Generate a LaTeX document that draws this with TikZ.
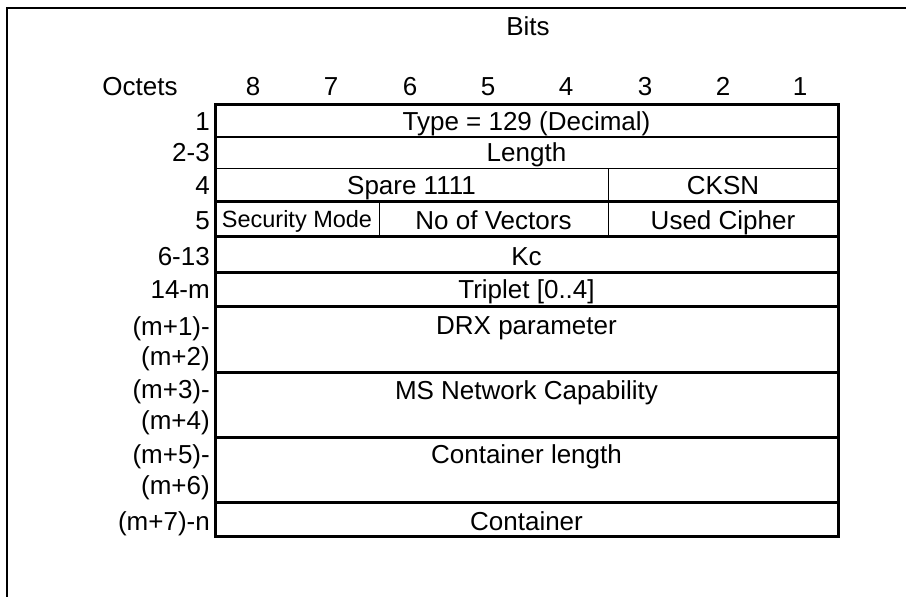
\documentclass[tikz,border=0pt]{standalone}
\usepackage{fontspec}
\setmainfont{Liberation Sans}
\begin{document}
\begin{tikzpicture}[x=1pt,y=-1pt,
  lab/.style={inner sep=0pt, font=\fontsize{26}{30}\selectfont, text height=18.6pt, text depth=0pt},
  smalllab/.style={inner sep=0pt, font=\fontsize{23.5}{28}\selectfont, text height=16.8pt, text depth=0pt},
  octlab/.style={lab, anchor=east},
  frameline/.style={line width=2pt},
  thickline/.style={line width=3pt},
  midline/.style={line width=2pt},
  thinline/.style={line width=1pt}]
\useasboundingbox (0,0) rectangle (906,597);
% outer frame
\draw[frameline] (7,600) -- (7,8) -- (910,8);
% table
\draw[thickline] (215,104) rectangle (838,536);
\draw[midline] (215,137) -- (838,137);
\draw[thinline] (215,168) -- (838,168);
\foreach \yy in {201,236,272,306,372,437,502}
  \draw[thickline] (215,\yy) -- (838,\yy);
\draw[thinline] (608,168) -- (608,236);
\draw[thinline] (379,201) -- (379,236);
% headings
\node[lab] (bits) at (528,26) {Bits};
\node[lab] (octets) at (140,86.5) {Octets};
\node[lab] (b8) at (253,86.5) {8};
\node[lab] (b7) at (331,86.5) {7};
\node[lab] (b6) at (410,86.5) {6};
\node[lab] (b5) at (488,86.5) {5};
\node[lab] (b4) at (566,86.5) {4};
\node[lab] (b3) at (645,86.5) {3};
\node[lab] (b2) at (723,86.5) {2};
\node[lab] (b1) at (800,86.5) {1};
% octet labels
\node[octlab] (o1) at (210,121) {1};
\node[octlab] (o23) at (210,152.5) {2-3};
\node[octlab] (o4) at (210,185.5) {4};
\node[octlab] (o5) at (210,220) {5};
\node[octlab] (o613) at (210,256) {6-13};
\node[octlab] (o14m) at (210,289) {14-m};
\node[octlab] (om1) at (210,326) {(m+1)-};
\node[octlab] (om2) at (210,356) {(m+2)};
\node[octlab] (om3) at (210,389.5) {(m+3)-};
\node[octlab] (om4) at (210,420) {(m+4)};
\node[octlab] (om5) at (210,454.5) {(m+5)-};
\node[octlab] (om6) at (210,485) {(m+6)};
\node[octlab] (om7) at (210,521) {(m+7)-n};
% cell contents
\node[lab] (type) at (526.5,121) {Type = 129 (Decimal)};
\node[lab] (length) at (526.5,152.5) {Length};
\node[lab] (spare) at (411.5,185.5) {Spare 1111};
\node[lab] (cksn) at (723,185.5) {CKSN};
\node[smalllab] (secmode) at (297,219.5) {Security Mode};
\node[lab] (novec) at (493.5,220) {No of Vectors};
\node[lab] (cipher) at (723,220) {Used Cipher};
\node[lab] (kc) at (526.5,256) {Kc};
\node[lab] (triplet) at (526.5,289) {Triplet [0..4]};
\node[lab] (drx) at (526.5,325.5) {DRX parameter};
\node[lab] (msnet) at (526.5,390) {MS Network Capability};
\node[lab] (contlen) at (526.5,454.5) {Container length};
\node[lab] (cont) at (526.5,521) {Container};
\end{tikzpicture}
\end{document}
